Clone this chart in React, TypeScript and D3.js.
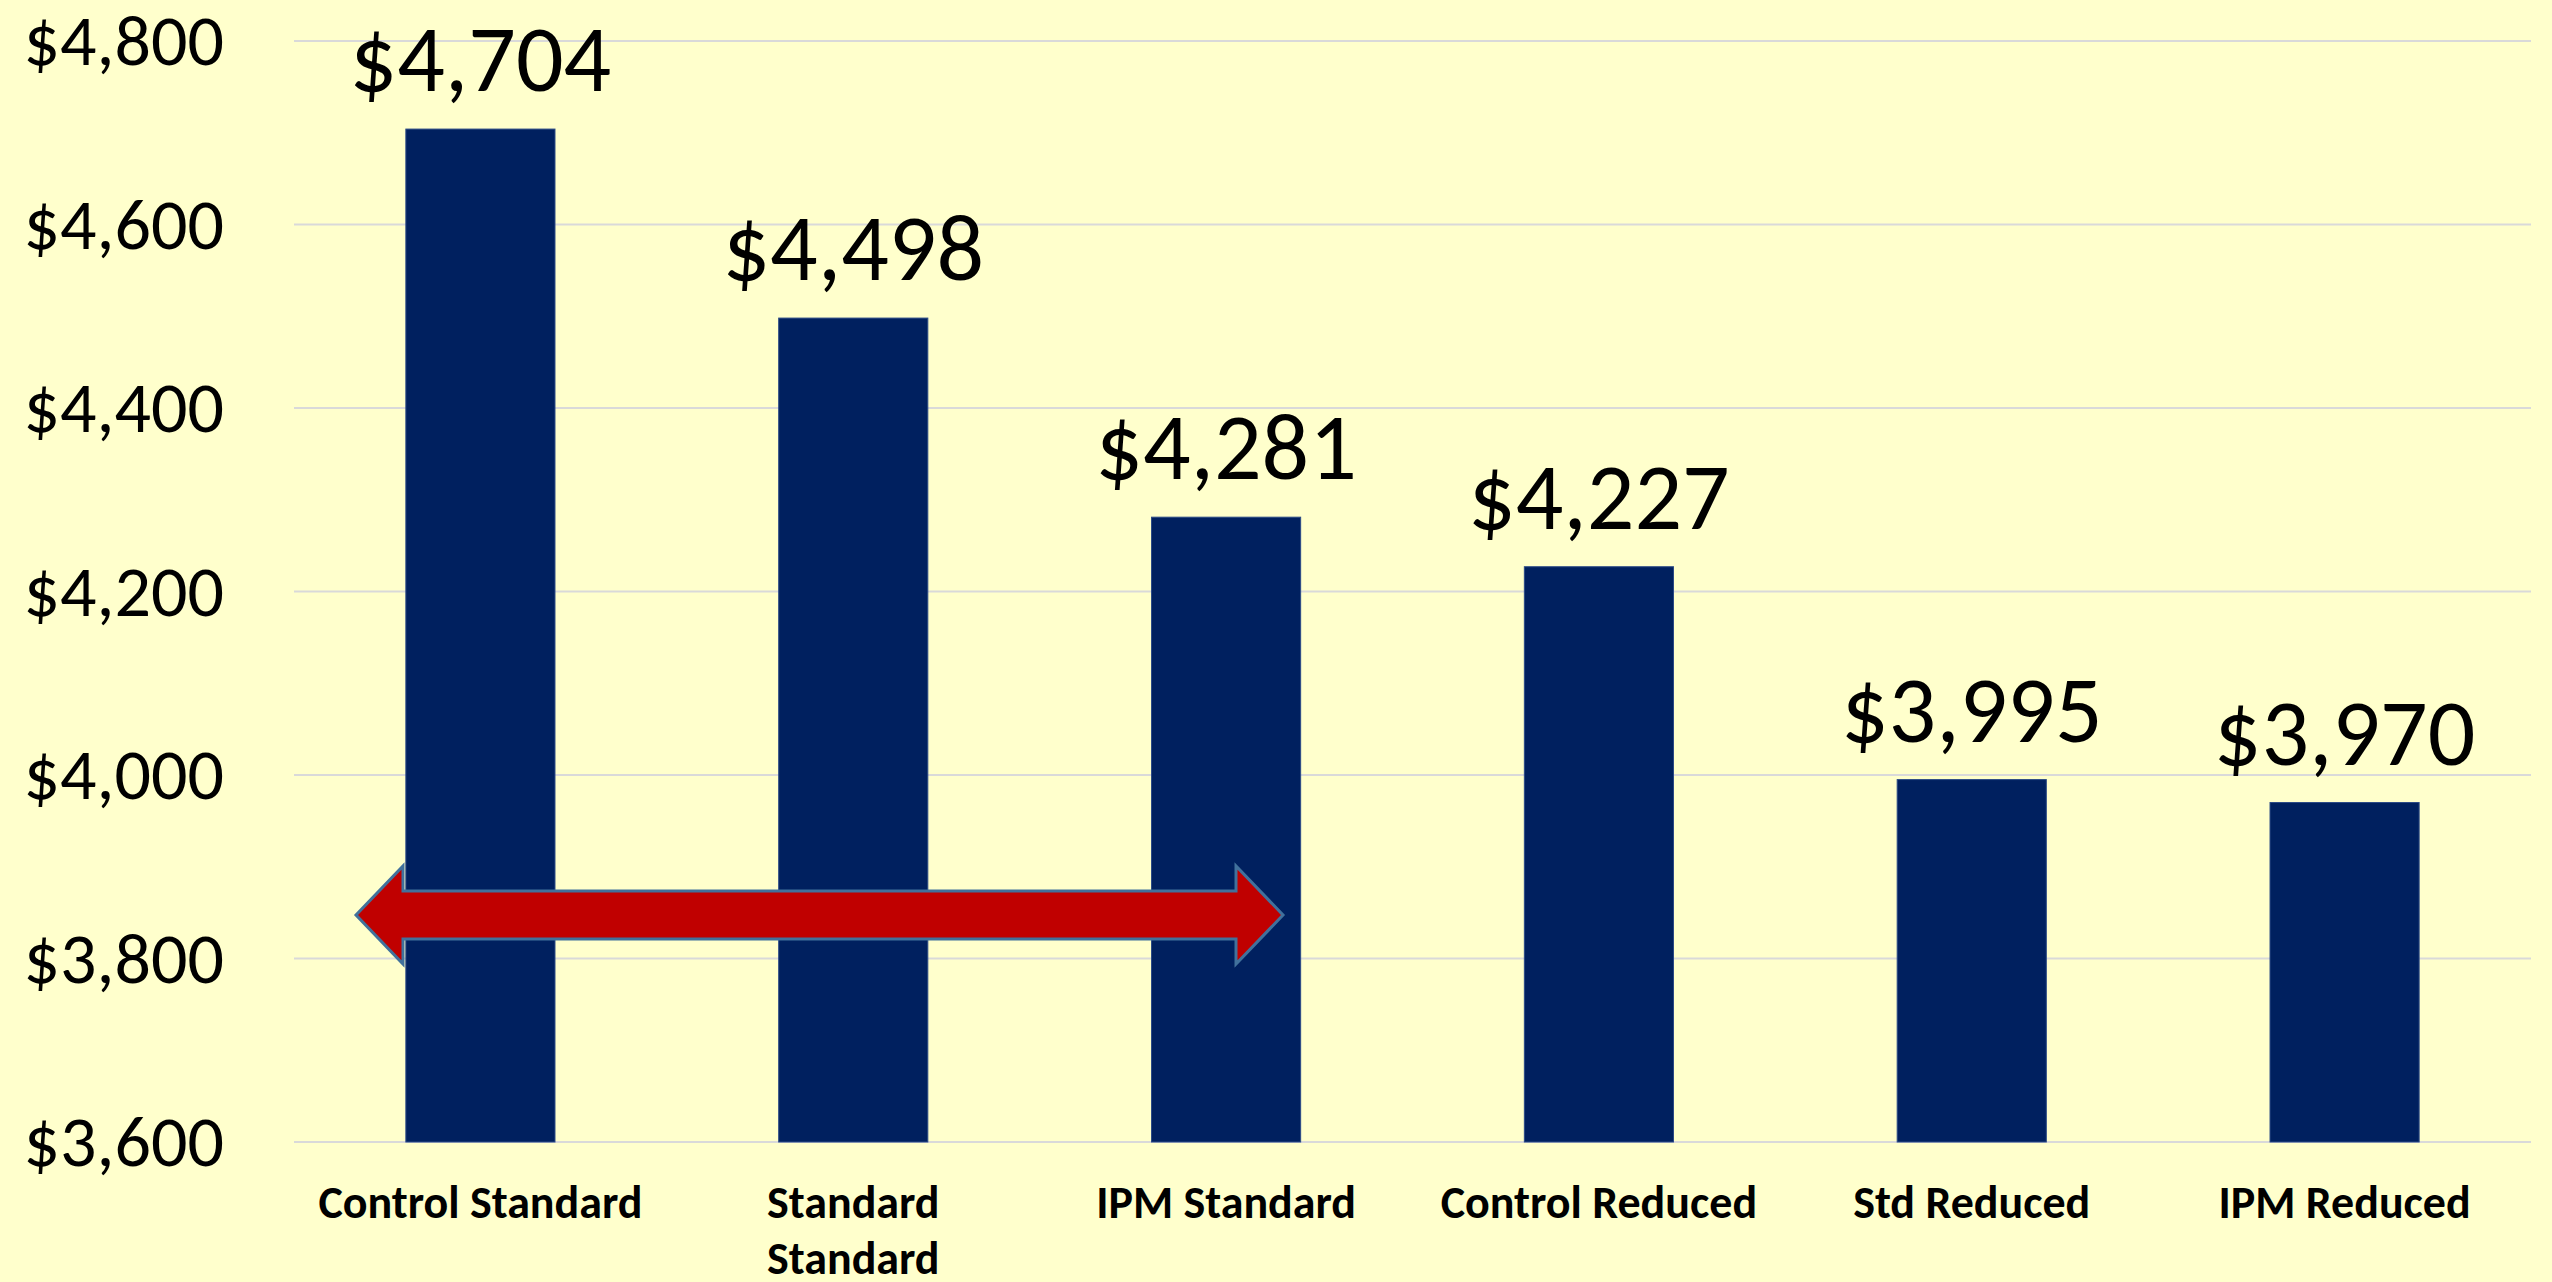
import * as d3 from "d3";
import React, { useEffect, useRef } from "react";

const categories = [
  "Control Standard",
  "Standard Standard",
  "IPM Standard",
  "Control Reduced",
  "Std Reduced",
  "IPM Reduced",
];
const costs = [4704, 4498, 4281, 4227, 3995, 3970];
const yTicks = [3600, 3800, 4000, 4200, 4400, 4600, 4800];

const CONFIG = {
  width: 2552,
  height: 1282,
  left: 294,
  right: 2531,
  top: 41,
  bottom: 1142,
  bg: "#FFFFCC",
  bar: "#00205F",
  grid: "#D9D9D9",
  font: "Carlito, Calibri, Lato, sans-serif",
};

// double-headed arrow annotation (pixel coords)
const ARROW = { x1: 356, x2: 1283, y: 915, shaft: 48, head: 98, headLen: 47 };

const App: React.FC = () => {
  const svgRef = useRef<SVGSVGElement>(null);

  useEffect(() => {
    draw();
  }, []);

  const draw = () => {
    const svg = d3.select(svgRef.current);
    svg.selectAll("*").remove();

    const x = d3
      .scaleBand<string>()
      .domain(categories)
      .range([CONFIG.left, CONFIG.right])
      .paddingInner(0.6)
      .paddingOuter(0.3);
    const y = d3
      .scaleLinear()
      .domain([3600, 4800])
      .range([CONFIG.bottom, CONFIG.top]);

    svg
      .append("rect")
      .attr("width", CONFIG.width)
      .attr("height", CONFIG.height)
      .attr("fill", CONFIG.bg);

    // gridlines
    svg
      .append("g")
      .selectAll("line")
      .data(yTicks)
      .enter()
      .append("line")
      .attr("x1", CONFIG.left)
      .attr("x2", CONFIG.right)
      .attr("y1", (d) => y(d))
      .attr("y2", (d) => y(d))
      .attr("stroke", CONFIG.grid)
      .attr("stroke-width", 2);

    // y tick labels
    svg
      .append("g")
      .selectAll("text")
      .data(yTicks)
      .enter()
      .append("text")
      .attr("x", 224)
      .attr("y", (d) => y(d) + 24)
      .attr("text-anchor", "end")
      .attr("font-family", CONFIG.font)
      .attr("font-size", 72)
      .attr("fill", "#000")
      .text((d) => "$" + d3.format(",")(d));

    // bars
    svg
      .append("g")
      .selectAll("rect")
      .data(costs)
      .enter()
      .append("rect")
      .attr("x", (_, i) => x(categories[i])!)
      .attr("y", (d) => y(d))
      .attr("width", x.bandwidth())
      .attr("height", (d) => CONFIG.bottom - y(d))
      .attr("fill", CONFIG.bar)
      .attr("stroke", "#2B4A86")
      .attr("stroke-width", 1);

    // value labels
    svg
      .append("g")
      .selectAll("text")
      .data(costs)
      .enter()
      .append("text")
      .attr("x", (_, i) => x(categories[i])! + x.bandwidth() / 2)
      .attr("y", (d) => y(d) - 38)
      .attr("text-anchor", "middle")
      .attr("font-family", CONFIG.font)
      .attr("font-size", 94)
      .attr("fill", "#000")
      .text((d) => "$" + d3.format(",")(d));

    // category labels, long ones wrap onto two lines
    const xl = svg.append("g");
    categories.forEach((c) => {
      const lines = c.length > 16 ? c.split(" ") : [c];
      const t = xl
        .append("text")
        .attr("x", x(c)! + x.bandwidth() / 2)
        .attr("y", 1218)
        .attr("text-anchor", "middle")
        .attr("font-family", CONFIG.font)
        .attr("font-weight", "bold")
        .attr("font-size", 46)
        .attr("fill", "#000");
      lines.forEach((l, j) => {
        t.append("tspan")
          .attr("x", x(c)! + x.bandwidth() / 2)
          .attr("dy", j === 0 ? 0 : 56)
          .text(l);
      });
    });

    // red arrow
    const a = ARROW;
    const hs = a.shaft / 2;
    const hh = a.head / 2;
    const pts: [number, number][] = [
      [a.x1, a.y],
      [a.x1 + a.headLen, a.y - hh],
      [a.x1 + a.headLen, a.y - hs],
      [a.x2 - a.headLen, a.y - hs],
      [a.x2 - a.headLen, a.y - hh],
      [a.x2, a.y],
      [a.x2 - a.headLen, a.y + hh],
      [a.x2 - a.headLen, a.y + hs],
      [a.x1 + a.headLen, a.y + hs],
      [a.x1 + a.headLen, a.y + hh],
    ];
    svg
      .append("path")
      .attr("d", d3.line()(pts) + "Z")
      .attr("fill", "#C00000")
      .attr("stroke", "#41719C")
      .attr("stroke-width", 3)
      .attr("stroke-linejoin", "miter");
  };

  return (
    <svg
      ref={svgRef}
      width={CONFIG.width}
      height={CONFIG.height}
      style={{ position: "absolute", left: 0, top: 0, display: "block" }}
    />
  );
};

export default App;
